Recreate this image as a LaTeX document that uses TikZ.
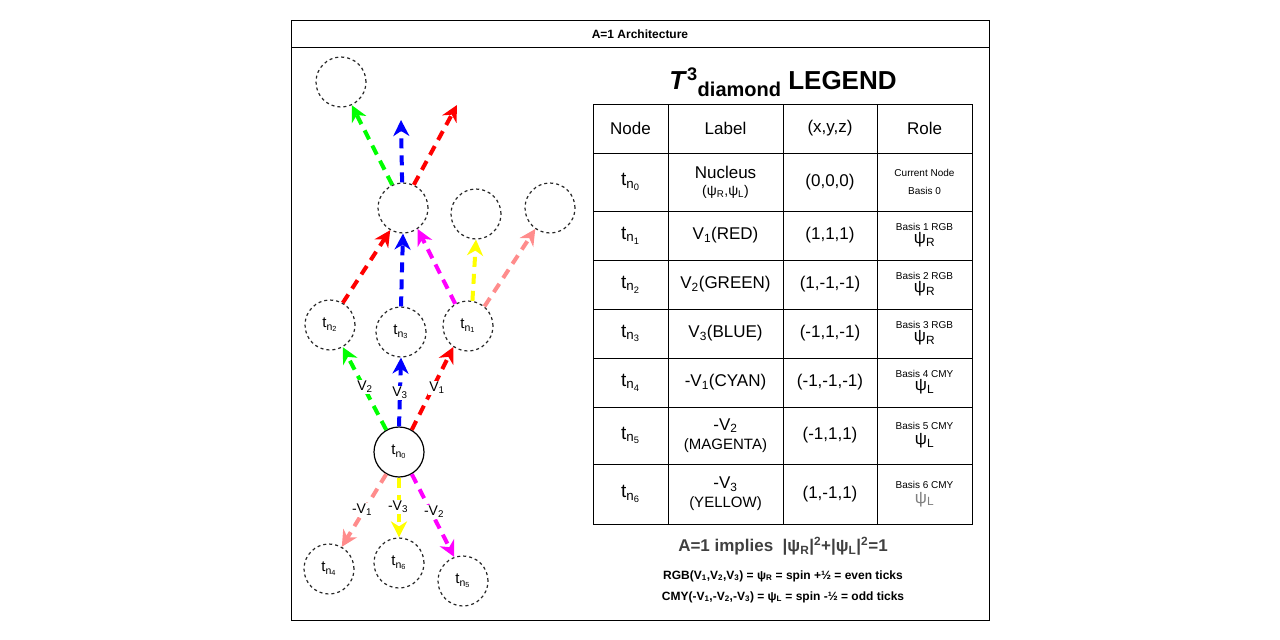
\documentclass[tikz,border=0pt]{standalone}
\usepackage{fontspec}
\setmainfont{Liberation Sans}
\usetikzlibrary{arrows.meta}
\newcommand\lo[1]{\textsubscript{#1}}
\newcommand\hi[1]{\textsuperscript{#1}}
\begin{document}
\begin{tikzpicture}[x=1pt,y=-1pt,
  cn/.style={circle,draw=black!85,line width=1.2pt,dash pattern=on 3pt off 3pt,minimum size=50pt,inner sep=0pt,font=\fontsize{15}{16}\selectfont},
  vec/.style={line width=4pt,dash pattern=on 10pt off 7pt,-{Stealth[length=16pt,width=16pt,inset=5pt]}},
  lab/.style={font=\fontsize{14}{15}\selectfont,fill=white,inner sep=1pt},
  cell/.style={font=\fontsize{17}{19}\selectfont,align=center},
  role/.style={font=\fontsize{10}{12}\selectfont,align=center}]
\definecolor{pinkc}{RGB}{255,140,140}
\definecolor{yel}{RGB}{255,255,0}
\definecolor{mag}{RGB}{255,0,255}
\definecolor{grn}{RGB}{0,255,0}
\definecolor{blu}{RGB}{0,0,255}
\definecolor{rd}{RGB}{255,0,0}
\useasboundingbox (0,0) rectangle (1280,640);
\draw[thick] (291,20) rectangle (989,620);
\draw[thick] (291,47) -- (989,47);
\node[font=\bfseries\fontsize{12}{13}\selectfont] (title) at (640,34) {A=1 Architecture};
% circles
\node[cn] (tl) at (341,82) {};
\node[cn] (uc) at (403,208) {};
\node[cn] (ua) at (476,214) {};
\node[cn] (ub) at (550,208) {};
\node[cn] (t2) at (330,325) {t\lo{n\lo{2}}};
\node[cn] (t3) at (401,332) {t\lo{n\lo{3}}};
\node[cn] (t1) at (468,326) {t\lo{n\lo{1}}};
\node[cn,solid,draw=black] (t0) at (399,452) {t\lo{n\lo{0}}};
\node[cn] (t4) at (329,569) {t\lo{n\lo{4}}};
\node[cn] (t6) at (399,563) {t\lo{n\lo{6}}};
\node[cn] (t5) at (463,581) {t\lo{n\lo{5}}};
% from t0
\draw[vec,grn] (t0.120) -- (t2.-60);
\draw[vec,blu] (t0.90) -- (t3.-90);
\draw[vec,rd] (t0.60) -- (t1.-125);
\draw[vec,pinkc] (t0.-120) -- (t4.60);
\draw[vec,yel] (t0.-90) -- (t6.90);
\draw[vec,mag] (t0.-60) -- (t5.110);
\node[lab] (l2) at (365,387) {V\lo{2}};
\node[lab] (l3) at (400,393) {V\lo{3}};
\node[lab] (l1) at (437,388) {V\lo{1}};
\node[lab] (m1) at (362,510) {-V\lo{1}};
\node[lab] (m3) at (398,507) {-V\lo{3}};
\node[lab] (m2) at (434,512) {-V\lo{2}};
% middle
\draw[vec,rd] (t2.60) -- (uc.-120);
\draw[vec,blu] (t3.90) -- (uc.-90);
\draw[vec,mag] (t1.120) -- (uc.-55);
\draw[vec,yel] (t1.80) -- (ua.-90);
\draw[vec,pinkc] (t1.50) -- (ub.-125);
% top
\draw[vec,grn] (uc.115) -- (tl.-65);
\coordinate (tc) at (401,120);
\draw[vec,blu] (uc.92) -- (tc);
\coordinate (tr) at (457,105);
\draw[vec,rd] (uc.65) -- (tr);
% legend
\node[font=\bfseries\fontsize{26}{28}\selectfont] (lt) at (783,82) {\textit{T}\hi{3}\raisebox{-7pt}{\fontsize{20}{22}\selectfont diamond} LEGEND};
\draw[thick] (593,104) rectangle (972,524);
\foreach \x in {668,783,877} \draw[thick] (\x,104) -- (\x,524);
\foreach \y in {153,211,260,309,358,407,464} \draw[thick] (593,\y) -- (972,\y);
\node[cell] (h1) at (630.5,128.5) {Node};
\node[cell] (h2) at (725.5,128.5) {Label};
\node[cell] (h3) at (830,128.5) {(x,y,z)};
\node[cell] (h4) at (924.5,128.5) {Role};
\newcommand\rowy[5]{%
 \node[cell] (a#1) at (630.5,#2) {\fontsize{19}{21}\selectfont t\lo{n\lo{#1}}};
 \node[cell] (b#1) at (725.5,#2) {#3};
 \node[cell] (c#1) at (830,#2) {#4};
 \node[role] (d#1) at (924.5,#2) {#5};}
\newcommand\psiR{{\fontsize{17}{18}\selectfont ψ\lo{R}}}
\newcommand\psiL{{\fontsize{17}{18}\selectfont ψ\lo{L}}}
\rowy{0}{182}{Nucleus\\[-2pt]{\fontsize{14}{15}\selectfont(ψ\lo{R},ψ\lo{L})}}{(0,0,0)}{Current Node\\[6pt]Basis 0}
\rowy{1}{235.5}{V\lo{1}(RED)}{(1,1,1)}{Basis 1 RGB\\[1pt]\psiR}
\rowy{2}{284.5}{V\lo{2}(GREEN)}{(1,-1,-1)}{Basis 2 RGB\\[1pt]\psiR}
\rowy{3}{333.5}{V\lo{3}(BLUE)}{(-1,1,-1)}{Basis 3 RGB\\[1pt]\psiR}
\rowy{4}{382.5}{-V\lo{1}(CYAN)}{(-1,-1,-1)}{Basis 4 CMY\\[1pt]\psiL}
\rowy{5}{435.5}{-V\lo{2}\\{\fontsize{15}{17}\selectfont(MAGENTA)}}{(-1,1,1)}{Basis 5 CMY\\[3pt]\psiL}
\rowy{6}{494}{-V\lo{3}\\{\fontsize{15}{17}\selectfont(YELLOW)}}{(1,-1,1)}{Basis 6 CMY\\[3pt]{\color{gray}\psiL}}
\node[font=\bfseries\fontsize{17}{19}\selectfont,text=black!75] (imp) at (783,546) {A=1 implies\ \ |ψ\lo{R}|\hi{2}+|ψ\lo{L}|\hi{2}=1};
\node[font=\bfseries\fontsize{12}{13}\selectfont] (rgb) at (783,576) {RGB(V\lo{1},V\lo{2},V\lo{3}) = ψ\lo{R} = spin +½ = even ticks};
\node[font=\bfseries\fontsize{12}{13}\selectfont] (cmy) at (783,597) {CMY(-V\lo{1},-V\lo{2},-V\lo{3}) = ψ\lo{L} = spin -½ = odd ticks};
\end{tikzpicture}
\end{document}
